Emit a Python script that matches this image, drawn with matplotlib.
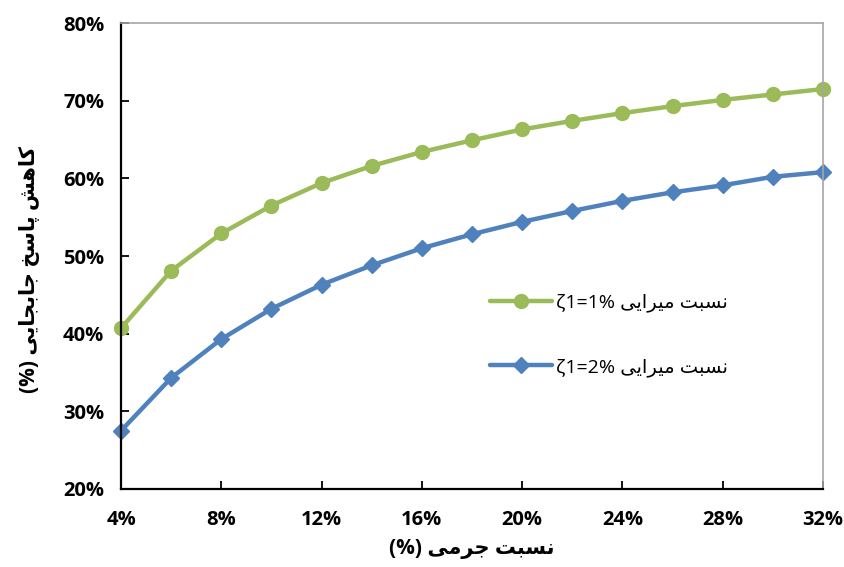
import matplotlib
matplotlib.use('Agg')
import matplotlib.pyplot as plt
from matplotlib.ticker import FuncFormatter

# mass ratio (%) and displacement response reduction (%)
mass_ratio = [4, 6, 8, 10, 12, 14, 16, 18, 20, 22, 24, 26, 28, 30, 32]
red_z1 = [40.7, 48.1, 52.9, 56.5, 59.4, 61.6, 63.4, 64.9, 66.3, 67.4, 68.4, 69.3, 70.1, 70.8, 71.5]
red_z2 = [27.5, 34.3, 39.3, 43.2, 46.3, 48.8, 51.0, 52.8, 54.4, 55.8, 57.1, 58.2, 59.1, 60.2, 60.8]
x_ticks = [4, 8, 12, 16, 20, 24, 28, 32]
y_ticks = [20, 30, 40, 50, 60, 70, 80]

# persian presentation forms: isolated, final, initial, medial
FORMS = {
    'ا': ('\uFE8D', '\uFE8E', None, None),
    'ب': ('\uFE8F', '\uFE90', '\uFE91', '\uFE92'),
    'پ': ('\uFB56', '\uFB57', '\uFB58', '\uFB59'),
    'ت': ('\uFE95', '\uFE96', '\uFE97', '\uFE98'),
    'ج': ('\uFE9D', '\uFE9E', '\uFE9F', '\uFEA0'),
    'خ': ('\uFEA5', '\uFEA6', '\uFEA7', '\uFEA8'),
    'ر': ('\uFEAD', '\uFEAE', None, None),
    'س': ('\uFEB1', '\uFEB2', '\uFEB3', '\uFEB4'),
    'ش': ('\uFEB5', '\uFEB6', '\uFEB7', '\uFEB8'),
    'ک': ('\uFB8E', '\uFB8F', '\uFB90', '\uFB91'),
    'م': ('\uFEE1', '\uFEE2', '\uFEE3', '\uFEE4'),
    'ن': ('\uFEE5', '\uFEE6', '\uFEE7', '\uFEE8'),
    'ه': ('\uFEE9', '\uFEEA', '\uFEEB', '\uFEEC'),
    'ی': ('\uFEEF', '\uFEF0', '\uFEF3', '\uFEF4'),
}


def fa(text):
    out = []
    for i, ch in enumerate(text):
        if ch not in FORMS:
            out.append(ch)
            continue
        prev = text[i - 1] if i > 0 else ''
        nxt = text[i + 1] if i + 1 < len(text) else ''
        jp = prev in FORMS and FORMS[prev][2] is not None
        jn = FORMS[ch][2] is not None and nxt in FORMS
        f = FORMS[ch]
        if jp and jn:
            out.append(f[3])
        elif jp:
            out.append(f[1])
        elif jn:
            out.append(f[2])
        else:
            out.append(f[0])
    return ''.join(out)[::-1]


fam = ['Open Sans', 'DejaVu Sans']
plt.rcParams['font.family'] = fam
plt.rcParams['font.weight'] = 'bold'

fig = plt.figure(figsize=(8.45, 5.67), dpi=100)
ax = fig.add_axes([0.1432, 0.1376, 0.8308, 0.8218])

ax.plot(mass_ratio, red_z1, color='#9BBB59', lw=3.2, marker='o', ms=10,
        label='ζ1=1% ' + fa('نسبت میرایی'), solid_capstyle='round')
ax.plot(mass_ratio, red_z2, color='#4F81BD', lw=3.2, marker='D', ms=8.5,
        label='ζ1=2% ' + fa('نسبت میرایی'), solid_capstyle='round')

ax.set_xlim(4, 32)
ax.set_ylim(20, 80)
ax.set_xticks(x_ticks)
ax.set_yticks(y_ticks)
pct = FuncFormatter(lambda v, p: '%d%%' % v)
ax.xaxis.set_major_formatter(pct)
ax.yaxis.set_major_formatter(pct)
ax.tick_params(direction='in', length=6, width=1.3, labelsize=14.5)
ax.tick_params(axis='x', pad=15)
ax.tick_params(axis='y', pad=12)

for s in ['left', 'bottom']:
    ax.spines[s].set_linewidth(1.6)
    ax.spines[s].set_color('black')
for s in ['top', 'right']:
    ax.spines[s].set_linewidth(1.2)
    ax.spines[s].set_color('#a6a6a6')
for ln in ax.lines:
    ln.set_clip_on(False)

ax.set_xlabel('(%) ' + fa('نسبت جرمی'), fontsize=15, fontweight='bold', labelpad=6)
ax.set_ylabel('(%) ' + fa('کاهش پاسخ جابجایی'), fontsize=15, fontweight='bold')
ax.yaxis.set_label_coords(-0.115, 0.47)

ax.legend(loc='center left', bbox_to_anchor=(0.5, 0.33), frameon=False,
          handlelength=3.2, labelspacing=2.35, handletextpad=0.2,
          prop={'family': fam, 'size': 14, 'weight': 'normal'})

fig.savefig('out.png', dpi=100)
